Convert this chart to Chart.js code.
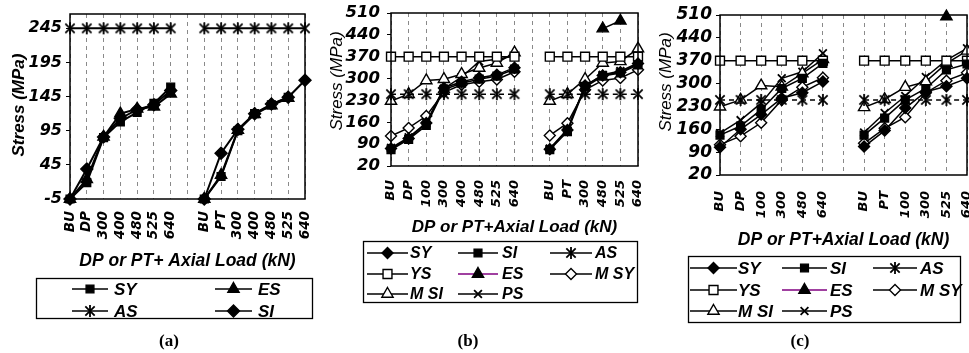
<!DOCTYPE html>
<html>
<head>
<meta charset="utf-8">
<script src="https://cdn.jsdelivr.net/npm/chart.js@4.4.1/dist/chart.umd.min.js"></script>
<style>
html, body { margin: 0; padding: 0; background: #fff; overflow: hidden; width: 969px; height: 353px; }
canvas { position: absolute; top: 0; }
#chartA { left: 0; }
#chartB { left: 320px; }
#chartC { left: 650px; }
</style>
</head>
<body>
<canvas id="chartA" width="320" height="353"></canvas>
<canvas id="chartB" width="330" height="353"></canvas>
<canvas id="chartC" width="340" height="353"></canvas>
<script>
// Panel (a)
const catsA = ['BU', 'DP', '300', '400', '480', '525', '640', '', 'BU', 'PT', '300', '400', '480', '525', '640'];
const ticksA = [-5, 45, 95, 145, 195, 245];
const aSY = [-5, 19, 85, 108, 122, 135, 159, null, -5, 28, 95, 120, 133, 144, null];
const aES = [-5, 24, 86, 120, 127, 130, 149, null, -5, 30, 96, 119, 132, 143, null];
const aAS = [245, 245, 245, 245, 245, 245, 245, null, 245, 245, 245, 245, 245, 245, 245];
const aSI = [-5, 39, 86, 113, 126, 133, 154, null, -5, 62, 97, 120, 134, 144, 169];

// Panel (b)
const catsB = ['BU', 'DP', '100', '300', '400', '480', '525', '640', '', 'BU', 'PT', '300', '480', '525', '640'];
const ticksBC = [20, 90, 160, 230, 300, 370, 440, 510];
const bSY = [76, 108, 158, 270, 290, 303, 312, 335, null, 74, 135, 278, 310, 320, 348];
const bSI = [72, 105, 150, 265, 285, 298, 308, 330, null, 72, 130, 273, 308, 318, 344];
const bAS = [250, 250, 250, 250, 250, 250, 250, 250, null, 250, 250, 250, 250, 250, 250];
const bYS = [370, 370, 370, 370, 370, 370, 370, 370, null, 370, 370, 370, 370, 370, 370];
const bES = [null, null, null, null, null, null, null, null, null, null, null, null, 460, 485, null];
const bMSY = [116, 142, 180, 256, 280, 290, 297, 322, null, 118, 157, 264, 294, 302, 328];
const bMSI = [228, 250, 294, 298, 314, 334, 350, 383, null, 228, 250, 298, 350, 355, 396];
const bPS = [78, 112, 158, 268, 305, 355, 362, 372, null, 76, 138, 276, 312, 324, 350];

// Panel (c)
const catsC = ['BU', 'DP', '100', '300', '480', '640', '', 'BU', 'PT', '100', '300', '525', '640'];
const cSY = [105, 160, 205, 255, 272, 306, null, 107, 156, 225, 275, 292, 316];
const cSI = [142, 170, 220, 285, 316, 362, null, 142, 194, 250, 285, 342, 360];
const cAS = [250, 250, 250, 250, 250, 250, null, 250, 250, 250, 250, 250, 250];
const cYS = [370, 370, 370, 370, 370, 370, null, 370, 370, 370, 370, 370, 370];
const cES = [null, null, null, null, null, null, null, null, null, null, null, 505, null];
const cMSY = [113, 139, 180, 250, 289, 318, null, 117, 163, 197, 272, 309, 333];
const cMSI = [229, 250, 294, 290, 331, 374, null, 227, 252, 289, 306, 362, 400];
const cPS = [148, 188, 240, 316, 336, 393, null, 150, 210, 262, 320, 372, 408];

const TICK_FAMILY = 'DejaVu Sans';
const TEXT_FAMILY = 'Liberation Sans';

// asterisk marker: cross plus a vertical bar
const asterisk = (r, lw) => {
    const c = document.createElement('canvas');
    const s = Math.ceil(2 * r + 2 * lw);
    c.width = s;
    c.height = s;
    const g = c.getContext('2d');
    const m = s / 2, d = r * 0.78;
    g.strokeStyle = '#000';
    g.lineWidth = lw;
    g.beginPath();
    g.moveTo(m - d, m - d); g.lineTo(m + d, m + d);
    g.moveTo(m + d, m - d); g.lineTo(m - d, m + d);
    g.moveTo(m, m - r); g.lineTo(m, m + r);
    g.stroke();
    return c;
};

const mk = {
    fSquare: { style: 'rect', r: 5.5, fill: '#000' },
    fDiamond: { style: 'rectRot', r: 5.5, fill: '#000' },
    fTriangle: { style: 'triangle', r: 6.5, fill: '#000' },
    oSquare: { style: 'rect', r: 6.3, fill: '#fff' },
    oDiamond: { style: 'rectRot', r: 5.5, fill: '#fff' },
    oTriangle: { style: 'triangle', r: 6.5, fill: '#fff' },
    cross: { style: 'crossRot', r: 5.5, fill: '#000' },
    star: { style: asterisk(6, 1.8), r: 6, fill: '#000' }
};

const series = (label, data, m, extra) => Object.assign({
    label: label,
    data: data,
    borderColor: '#000',
    borderWidth: 1.5,
    pointStyle: m.style,
    pointRadius: m.r,
    pointBackgroundColor: m.fill,
    pointBorderColor: '#000',
    pointBorderWidth: 1.4,
    spanGaps: false,
    tension: 0,
    clip: false,
    legendColor: '#000'
}, extra || {});

// plot frame, y title, boxed legend and panel letter
const panelDecor = {
    id: 'panelDecor',
    afterDraw(chart, args, o) {
        const ctx = chart.ctx;
        const { x, y } = chart.scales;
        ctx.save();
        ctx.setLineDash([]);
        ctx.strokeStyle = '#000';
        ctx.lineWidth = 1.5;
        ctx.strokeRect(x.left, y.top, x.right - x.left, y.bottom - y.top);
        ctx.restore();

        ctx.save();
        ctx.fillStyle = '#000';
        ctx.translate(o.yTitle.x, o.yTitle.y);
        ctx.rotate(-Math.PI / 2);
        ctx.font = o.yTitle.font;
        ctx.textAlign = 'center';
        ctx.textBaseline = 'middle';
        ctx.fillText('Stress (MPa)', 0, 0);
        ctx.restore();

        const L = o.legend;
        ctx.save();
        ctx.setLineDash([]);
        ctx.strokeStyle = '#000';
        ctx.lineWidth = 1.3;
        ctx.strokeRect(L.box[0], L.box[1], L.box[2], L.box[3]);
        ctx.font = L.font;
        ctx.textBaseline = 'middle';
        chart.data.datasets.forEach((ds, i) => {
            const c = L.cols[i % L.cols.length];
            const yy = L.rows[Math.floor(i / L.cols.length)];
            ctx.save();
            ctx.strokeStyle = ds.legendColor;
            ctx.lineWidth = 1.5;
            ctx.beginPath();
            ctx.moveTo(c[0], yy);
            ctx.lineTo(c[1], yy);
            ctx.stroke();
            ctx.fillStyle = ds.pointBackgroundColor;
            ctx.strokeStyle = '#000';
            ctx.lineWidth = ds.pointBorderWidth;
            Chart.helpers.drawPoint(ctx, {
                pointStyle: ds.pointStyle, radius: ds.pointRadius, rotation: 0, borderWidth: ds.pointBorderWidth
            }, (c[0] + c[1]) / 2, yy);
            ctx.restore();
            ctx.fillStyle = '#000';
            ctx.fillText(ds.label, c[2], yy + 1);
        });
        ctx.font = 'bold 17px "Liberation Serif"';
        ctx.textAlign = 'center';
        ctx.fillText(o.caption.text, o.caption.x, o.caption.y);
        ctx.restore();
    }
};

const makePanel = (id, cfg) => new Chart(document.getElementById(id), {
    type: 'line',
    data: { labels: cfg.labels, datasets: cfg.datasets },
    options: {
        responsive: false,
        animation: false,
        devicePixelRatio: 1,
        events: [],
        layout: { padding: cfg.padding },
        plugins: {
            legend: { display: false },
            tooltip: { enabled: false },
            panelDecor: cfg.decor
        },
        scales: {
            x: {
                ticks: {
                    autoSkip: false, minRotation: 90, maxRotation: 90, padding: cfg.xPad, color: '#000',
                    font: { family: TICK_FAMILY, size: cfg.xSize, style: 'italic', weight: 'bold' }
                },
                grid: { color: '#8a8a8a', lineWidth: 1, drawTicks: false },
                border: { display: false, dash: [4, 4] },
                title: {
                    display: true, text: cfg.xTitle, color: '#000', padding: { top: 0, bottom: 0 },
                    font: { family: TEXT_FAMILY, size: cfg.xTitleSize, style: 'italic', weight: 'bold' }
                },
                afterFit: (s) => {
                    s.height = cfg.xHeight;
                    s.paddingLeft = 0;
                    s.paddingRight = 0;
                }
            },
            y: {
                min: cfg.min,
                max: cfg.max,
                afterBuildTicks: (s) => { s.ticks = cfg.ticks.map(v => ({ value: v })); },
                ticks: {
                    autoSkip: false, padding: cfg.yPad, color: '#000',
                    font: { family: TICK_FAMILY, size: cfg.ySize, style: 'italic', weight: 'bold' }
                },
                grid: { drawOnChartArea: false, drawTicks: true, tickLength: 4, color: '#000' },
                border: { display: false },
                afterFit: (s) => {
                    s.width = cfg.yWidth;
                    s.paddingTop = 0;
                    s.paddingBottom = 0;
                }
            }
        }
    },
    plugins: [panelDecor]
});

document.addEventListener('DOMContentLoaded', () => {
    makePanel('chartA', {
        labels: catsA, ticks: ticksA, min: -5, max: 266,
        padding: { top: 14, right: 15, bottom: 81.5, left: 0 },
        yWidth: 70, xHeight: 72.5, xPad: 12, yPad: 4, xSize: 13.5, ySize: 16, xTitleSize: 17.5,
        xTitle: 'DP or PT+ Axial Load (kN)',
        datasets: [
            series('SY', aSY, mk.fSquare, { borderWidth: 2 }),
            series('ES', aES, mk.fTriangle, { borderWidth: 2 }),
            series('AS', aAS, mk.star, { borderWidth: 2 }),
            series('SI', aSI, mk.fDiamond, { borderWidth: 2, pointRadius: 6 })
        ],
        decor: {
            yTitle: { x: 19.5, y: 105, font: 'italic bold 17px "Liberation Sans"' },
            legend: {
                box: [36.5, 278.5, 276, 40], font: 'italic bold 17px "Liberation Sans"',
                cols: [[72, 108, 114], [215, 252, 258]], rows: [289, 311]
            },
            caption: { text: '(a)', x: 169, y: 342 }
        }
    });

    const bcSets = (SY, SI, AS, YS, ES, MSY, MSI, PS) => [
        series('SY', SY, mk.fDiamond),
        series('SI', SI, mk.fSquare),
        series('AS', AS, mk.star, { borderDash: [5, 4] }),
        series('YS', YS, mk.oSquare),
        series('ES', ES, mk.fTriangle, { legendColor: '#800080' }),
        series('M SY', MSY, mk.oDiamond),
        series('M SI', MSI, mk.oTriangle),
        series('PS', PS, mk.cross, { pointBorderWidth: 1.8 })
    ];

    makePanel('chartB', {
        labels: catsB, ticks: ticksBC, min: 20, max: 510,
        padding: { top: 13, right: 12, bottom: 115, left: 0 },
        yWidth: 71, xHeight: 72, xPad: 14, yPad: 7, xSize: 13, ySize: 16.5, xTitleSize: 17,
        xTitle: 'DP or PT+Axial Load (kN)',
        datasets: bcSets(bSY, bSI, bAS, bYS, bES, bMSY, bMSI, bPS),
        decor: {
            yTitle: { x: 17, y: 81, font: 'italic 17px "Liberation Sans"' },
            legend: {
                box: [43.5, 241.5, 274, 61], font: 'italic bold 16px "Liberation Sans"',
                cols: [[47, 88, 90], [138, 178, 182], [230, 272, 275]], rows: [253, 274, 294]
            },
            caption: { text: '(b)', x: 148, y: 342 }
        }
    });

    makePanel('chartC', {
        labels: catsC, ticks: ticksBC, min: 20, max: 510,
        padding: { top: 15, right: 23, bottom: 102.5, left: 0 },
        yWidth: 70, xHeight: 75.5, xPad: 16, yPad: 4, xSize: 13, ySize: 17, xTitleSize: 17.5,
        xTitle: 'DP or PT+Axial Load (kN)',
        datasets: bcSets(cSY, cSI, cAS, cYS, cES, cMSY, cMSI, cPS),
        decor: {
            yTitle: { x: 16, y: 82, font: 'italic 17px "Liberation Sans"' },
            legend: {
                box: [38.5, 256.5, 272, 66], font: 'italic bold 17px "Liberation Sans"',
                cols: [[40, 87, 88], [132, 177, 180], [223, 267, 270]], rows: [268, 290, 311]
            },
            caption: { text: '(c)', x: 150, y: 342 }
        }
    });
});
</script>
</body>
</html>
